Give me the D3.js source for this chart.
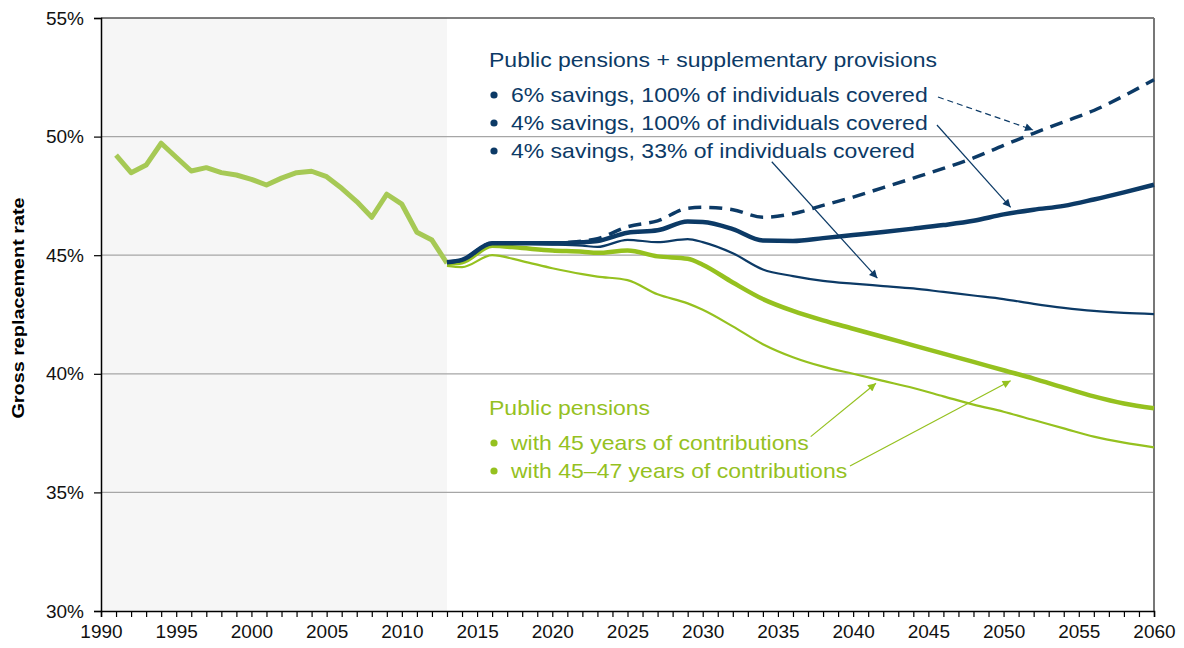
<!DOCTYPE html>
<html>
<head>
<meta charset="utf-8">
<script src="https://cdn.jsdelivr.net/npm/d3@7"></script>
<style>
  body { margin: 0; background: #fff; }
  svg { font-family: "Liberation Sans", Arial, sans-serif; }
</style>
</head>
<body>
<div id="main"></div>
<script>
// DATA

// Observed replacement rate (all scenarios identical)
var hist_years = [1991,1992,1993,1994,1995,1996,1997,1998,1999,2000,2001,2002,
  2003,2004,2005,2006,2007,2008,2009,2010,2011,2012,2013]
var hist_values = [49.22,48.48,48.80,49.72,49.13,48.55,48.69,48.48,48.38,48.20,47.96,48.25,
  48.48,48.54,48.31,47.82,47.26,46.60,47.57,47.15,45.97,45.64,44.66]

// Projection years
var proj_years = [2013,2014,2016,2018,2020,2022,2023,2025,2027,2029,2030,2032,2034,
  2036,2038,2040,2042,2044,2046,2048,2050,2052,2054,2056,2058,2060]

// Public pensions + supplementary provisions
var sav6_cov100 = [44.7,44.8,45.5,45.5,45.5,45.6,45.7,46.2,46.45,46.98,47.02,46.92,46.6,
  46.75,47.1,47.45,47.85,48.25,48.66,49.1,49.63,50.14,50.62,51.1,51.72,52.4]
var sav4_cov100 = [44.7,44.8,45.5,45.5,45.5,45.55,45.6,45.95,46.05,46.42,46.4,46.1,45.62,
  45.6,45.72,45.85,45.98,46.12,46.27,46.45,46.72,46.92,47.08,47.35,47.65,47.97]
var sav4_cov33 = [44.7,44.8,45.5,45.48,45.45,45.4,45.35,45.65,45.55,45.68,45.55,45.08,44.4,
  44.12,43.92,43.8,43.7,43.6,43.45,43.3,43.15,42.95,42.78,42.65,42.57,42.52]

// Public pensions only
var pub_45_47 = [44.65,44.7,45.4,45.3,45.2,45.15,45.1,45.2,44.95,44.85,44.6,43.85,43.15,
  42.65,42.25,41.9,41.55,41.2,40.85,40.5,40.15,39.8,39.42,39.05,38.75,38.55]
var pub_45 = [44.55,44.5,45.0,44.75,44.45,44.2,44.1,43.95,43.35,42.97,42.7,42.0,41.25,
  40.7,40.3,40.0,39.7,39.4,39.05,38.7,38.4,38.05,37.7,37.35,37.1,36.9]

// Axis ticks
var y_ticks = [30,35,40,45,50,55]
var x_label_years = [1990,1995,2000,2005,2010,2015,2020,2025,2030,2035,2040,2045,2050,2055,2060]

// Legend texts
var blue_title = 'Public pensions + supplementary provisions'
var blue_items = ['6% savings, 100% of individuals covered',
  '4% savings, 100% of individuals covered',
  '4% savings, 33% of individuals covered']
var green_title = 'Public pensions'
var green_items = ['with 45 years of contributions', 'with 45\u201347 years of contributions']

// Arrows from legend to curves, in data units [year, value]
var arrows = [
  {from: [2045.64, 51.67], to: [2051.96, 50.28], color: 'blue', dashed: true},
  {from: [2045.57, 50.49], to: [2050.47, 47.02], color: 'blue', dashed: false},
  {from: [2034.59, 48.94], to: [2041.61, 44.03], color: 'blue', dashed: false},
  {from: [2037.18, 37.35], to: [2041.52, 39.60], color: 'green', dashed: false},
  {from: [2039.79, 36.11], to: [2050.47, 39.71], color: 'green', dashed: false}
]

// CHART

var W = 1184, H = 648
var margin = {left: 101, right: 30, top: 18, bottom: 37}
var blue = '#0c3a66', green = '#95c11f', hist_green = '#a6c955'

var svg = d3.select('#main').append('svg')
  .attr('width', W).attr('height', H)

var x = d3.scaleLinear().domain([1990, 2060]).range([margin.left, W - margin.right])
var y = d3.scaleLinear().domain([30, 55]).range([H - margin.bottom, margin.top])

// Arrow heads
var defs = svg.append('defs')
for (let [name, col] of [['blue', blue], ['green', green]]) {
  defs.append('marker')
    .attr('id', 'arrow_' + name)
    .attr('viewBox', '0 0 10 10')
    .attr('refX', 10).attr('refY', 5)
    .attr('markerWidth', 11).attr('markerHeight', 8)
    .attr('markerUnits', 'userSpaceOnUse')
    .attr('orient', 'auto')
    .append('path')
      .attr('d', 'M0,0 L10,5 L0,10 z')
      .attr('fill', col)
}

// Shaded historical period
svg.append('rect')
  .attr('x', x(1990)).attr('y', y(55))
  .attr('width', x(2013) - x(1990)).attr('height', y(30) - y(55))
  .attr('fill', '#f6f6f6')

// Gridlines
svg.append('g')
  .selectAll('line')
  .data([35, 40, 45, 50])
  .join('line')
    .attr('x1', x(1990)).attr('x2', x(2060))
    .attr('y1', d => y(d)).attr('y2', d => y(d))
    .attr('stroke', '#a6a6a6').attr('stroke-width', 1.2)

// Frame: top black, right grey
svg.append('line')
  .attr('x1', x(1990)).attr('x2', x(2060)).attr('y1', y(55)).attr('y2', y(55))
  .attr('stroke', '#000').attr('stroke-width', 1.2)
svg.append('line')
  .attr('x1', x(2060)).attr('x2', x(2060)).attr('y1', y(55)).attr('y2', y(30))
  .attr('stroke', '#777').attr('stroke-width', 2)

// Y axis
var yAxis = svg.append('g')
  .attr('transform', `translate(${x(1990)},0)`)
  .call(d3.axisLeft(y).tickValues(y_ticks).tickFormat(d => d + '%').tickSize(7).tickPadding(10))
yAxis.select('.domain').attr('stroke', '#000').attr('stroke-width', 1.5)
yAxis.selectAll('.tick line').attr('stroke', '#000').attr('stroke-width', 1.2)
yAxis.selectAll('text').style('font-size', '19px').attr('fill', '#111')

// X axis: minor ticks each year, labels every 5 years
var xAxis = svg.append('g')
  .attr('transform', `translate(0,${y(30)})`)
  .call(d3.axisBottom(x).tickValues(d3.range(1990, 2061)).tickSize(6)
    .tickFormat(d => x_label_years.includes(d) ? d : '').tickPadding(8))
xAxis.select('.domain').attr('stroke', '#000').attr('stroke-width', 1.5)
xAxis.selectAll('.tick line').attr('stroke', '#000').attr('stroke-width', 1.2)
xAxis.selectAll('text').style('font-size', '19px').attr('fill', '#111')

// Y axis title (the original font is a bit wider than Liberation, hence the stretch)
svg.append('text')
  .attr('transform', `translate(24,308) rotate(-90) scale(1.2,1)`)
  .attr('text-anchor', 'middle')
  .style('font-size', '16.5px').style('font-weight', 'bold')
  .text('Gross replacement rate')

// LINES
var hist_line = d3.line().x((d, i) => x(hist_years[i])).y(d => y(d))
var proj_line = d3.line().x((d, i) => x(proj_years[i])).y(d => y(d)).curve(d3.curveMonotoneX)

var series = [
  {values: pub_45, color: green, width: 2.2, dash: null},
  {values: pub_45_47, color: green, width: 4.5, dash: null},
  {values: sav4_cov33, color: blue, width: 2.2, dash: null},
  {values: sav4_cov100, color: blue, width: 4.5, dash: null},
  {values: sav6_cov100, color: blue, width: 3.5, dash: '13,8'}
]

svg.append('path')
  .attr('d', hist_line(hist_values))
  .attr('fill', 'none').attr('stroke', hist_green)
  .attr('stroke-width', 5).attr('stroke-linejoin', 'round')

svg.append('g')
  .selectAll('path')
  .data(series)
  .join('path')
    .attr('d', d => proj_line(d.values))
    .attr('fill', 'none')
    .attr('stroke', d => d.color)
    .attr('stroke-width', d => d.width)
    .attr('stroke-dasharray', d => d.dash)
    .attr('stroke-linejoin', 'round')

// LEGEND TEXT
function legend_block(title, items, color, top) {
  var g = svg.append('g').attr('fill', color).style('font-size', '20px')
  g.append('text').attr('transform', `translate(489,${top}) scale(1.15,1)`).text(title)
  items.forEach((t, i) => {
    let yy = top + 35 + i * 28
    g.append('circle').attr('cx', 494).attr('cy', yy - 7).attr('r', 3.6)
    g.append('text').attr('transform', `translate(511,${yy}) scale(1.15,1)`).text(t)
  })
}
legend_block(blue_title, blue_items, blue, 67)
legend_block(green_title, green_items, green, 415)

// ARROWS
svg.append('g')
  .selectAll('line')
  .data(arrows)
  .join('line')
    .attr('x1', d => x(d.from[0])).attr('y1', d => y(d.from[1]))
    .attr('x2', d => x(d.to[0])).attr('y2', d => y(d.to[1]))
    .attr('stroke', d => d.color == 'blue' ? blue : green)
    .attr('stroke-width', 1.2)
    .attr('stroke-dasharray', d => d.dashed ? '6,4' : null)
    .attr('marker-end', d => `url(#arrow_${d.color})`)
</script>
</body>
</html>
